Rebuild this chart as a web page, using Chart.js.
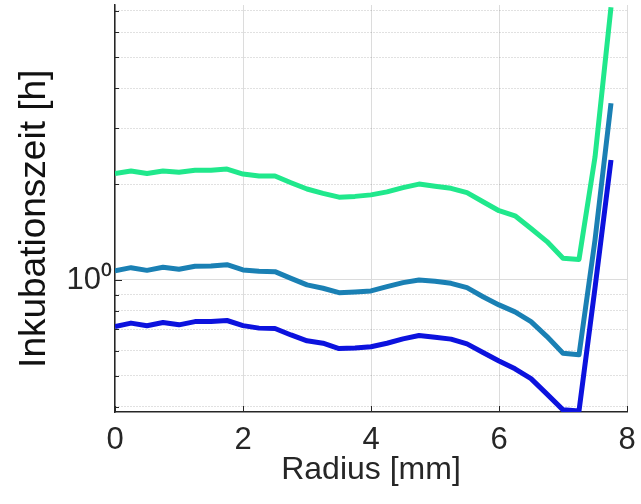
<!DOCTYPE html>
<html lang="de">
<head>
    <meta charset="UTF-8">
    <title>Inkubationszeit über Radius</title>
    <script src="https://cdn.jsdelivr.net/npm/chart.js"></script>
    <style>
        body { margin: 0; background: #fff; }
        #wrap { width: 641px; height: 504px; }
    </style>
</head>
<body>
    <div id="wrap"><canvas id="chart"></canvas></div>

    <script>
        // Radius [mm]
        const radius = [0, 0.25, 0.5, 0.75, 1, 1.25, 1.5, 1.75, 2, 2.25, 2.5, 2.75, 3, 3.25, 3.5, 3.75,
                        4, 4.25, 4.5, 4.75, 5, 5.25, 5.5, 5.75, 6, 6.25, 6.5, 6.75, 7, 7.25, 7.5, 7.75];

        // Inkubationszeit [h]
        const zeitGruen = [2.16, 2.20, 2.16, 2.20, 2.18, 2.21, 2.21, 2.23, 2.15, 2.12, 2.12, 2.02, 1.93, 1.87, 1.82, 1.83,
                           1.85, 1.89, 1.95, 2.00, 1.97, 1.94, 1.88, 1.76, 1.65, 1.59, 1.45, 1.32, 1.17, 1.16, 2.43, 7.18];
        const zeitTuerkis = [1.069, 1.093, 1.072, 1.096, 1.080, 1.104, 1.106, 1.117, 1.075, 1.065, 1.062, 1.012, 0.965, 0.942, 0.912, 0.917,
                             0.924, 0.953, 0.981, 1.000, 0.991, 0.976, 0.946, 0.886, 0.835, 0.794, 0.740, 0.664, 0.589, 0.582, 1.335, 3.59];
        const zeitBlau = [0.714, 0.732, 0.718, 0.735, 0.723, 0.740, 0.740, 0.746, 0.719, 0.706, 0.704, 0.672, 0.644, 0.633, 0.609, 0.612,
                          0.617, 0.633, 0.653, 0.669, 0.661, 0.652, 0.630, 0.592, 0.557, 0.526, 0.490, 0.438, 0.391, 0.388, 0.944, 2.38];

        // Achsen
        const xTicks = [0, 2, 4, 6, 8];
        const yTicks = [0.4, 0.5, 0.6, 0.7, 0.8, 0.9, 1, 2, 3, 4, 5, 6, 7];
        const yMin = 0.385;
        const yMax = 7.3;

        const achsenFarbe = '#262626';
        const schrift = '"Liberation Sans", Arial, Helvetica, sans-serif';

        function punkte(werte) {
            return radius.map((r, i) => ({ x: r, y: werte[i] }));
        }

        function linie(werte, farbe) {
            return {
                data: punkte(werte),
                borderColor: farbe,
                borderWidth: 5,
                pointRadius: 0,
                tension: 0,
                borderJoinStyle: 'round',
                fill: false
            };
        }

        // kurze Striche nach innen wie in MATLAB
        const innenStriche = {
            id: 'innenStriche',
            beforeDatasetsDraw(chart) {
                const { ctx, chartArea, scales: { x, y } } = chart;
                ctx.save();
                ctx.strokeStyle = achsenFarbe;
                ctx.lineWidth = 1;
                ctx.beginPath();
                y.ticks.forEach((t, i) => {
                    const py = Math.round(y.getPixelForTick(i)) + 0.5;
                    ctx.moveTo(chartArea.left, py);
                    ctx.lineTo(chartArea.left + (t.value === 1 ? 7 : 4), py);
                });
                x.ticks.forEach((t, i) => {
                    const px = Math.round(x.getPixelForTick(i)) + 0.5;
                    ctx.moveTo(px, chartArea.bottom);
                    ctx.lineTo(px, chartArea.bottom - 6);
                });
                ctx.stroke();
                ctx.restore();
            }
        };

        new Chart(document.getElementById('chart'), {
            type: 'line',
            data: {
                datasets: [
                    linie(zeitBlau, 'rgb(12, 18, 222)'),
                    linie(zeitTuerkis, 'rgb(26, 128, 180)'),
                    linie(zeitGruen, 'rgb(32, 232, 140)')
                ]
            },
            options: {
                responsive: true,
                maintainAspectRatio: false,
                animation: false,
                layout: { padding: { top: 5, right: 14, bottom: 0, left: 0 } },
                plugins: {
                    legend: { display: false },
                    tooltip: { enabled: false }
                },
                scales: {
                    x: {
                        type: 'linear',
                        min: 0,
                        max: 8,
                        afterBuildTicks: (scale) => { scale.ticks = xTicks.map(v => ({ value: v })); },
                        afterFit: (scale) => {
                            scale.height = 92;
                            scale.paddingLeft = 0;
                            scale.paddingRight = 0;
                        },
                        ticks: {
                            color: achsenFarbe,
                            font: { family: schrift, size: 31 },
                            padding: 10,
                            maxRotation: 0,
                            autoSkip: false
                        },
                        grid: {
                            color: '#dcdcdc',
                            lineWidth: 1,
                            drawTicks: false
                        },
                        border: { display: true, color: achsenFarbe, width: 1.5 },
                        title: {
                            display: true,
                            text: 'Radius [mm]',
                            color: achsenFarbe,
                            font: { family: schrift, size: 32 },
                            padding: { top: 0, bottom: 15 }
                        }
                    },
                    y: {
                        type: 'logarithmic',
                        min: yMin,
                        max: yMax,
                        afterBuildTicks: (scale) => { scale.ticks = yTicks.map(v => ({ value: v })); },
                        afterFit: (scale) => {
                            scale.width = 115;
                            scale.paddingTop = 0;
                            scale.paddingBottom = 0;
                        },
                        ticks: {
                            color: achsenFarbe,
                            font: { family: schrift, size: 31 },
                            padding: 3,
                            autoSkip: false,
                            callback: (v) => (v === 1 ? '10\u2070' : '')
                        },
                        grid: {
                            color: (c) => (c.tick && c.tick.value === 1 ? '#dcdcdc' : 'rgba(0,0,0,0.24)'),
                            lineWidth: 1,
                            drawTicks: false
                        },
                        border: {
                            display: true,
                            color: achsenFarbe,
                            width: 1.5,
                            dash: (c) => (c.tick && c.tick.value !== 1 ? [1, 2] : [])
                        },
                        title: {
                            display: true,
                            // zwei geschützte Leerzeichen schieben den Text etwas nach unten
                            text: 'Inkubationszeit [h]\u00a0\u00a0',
                            color: '#111',
                            font: { family: schrift, size: 37 },
                            padding: { top: 13, bottom: 0 }
                        }
                    }
                }
            },
            plugins: [innenStriche]
        });
    </script>
</body>
</html>
